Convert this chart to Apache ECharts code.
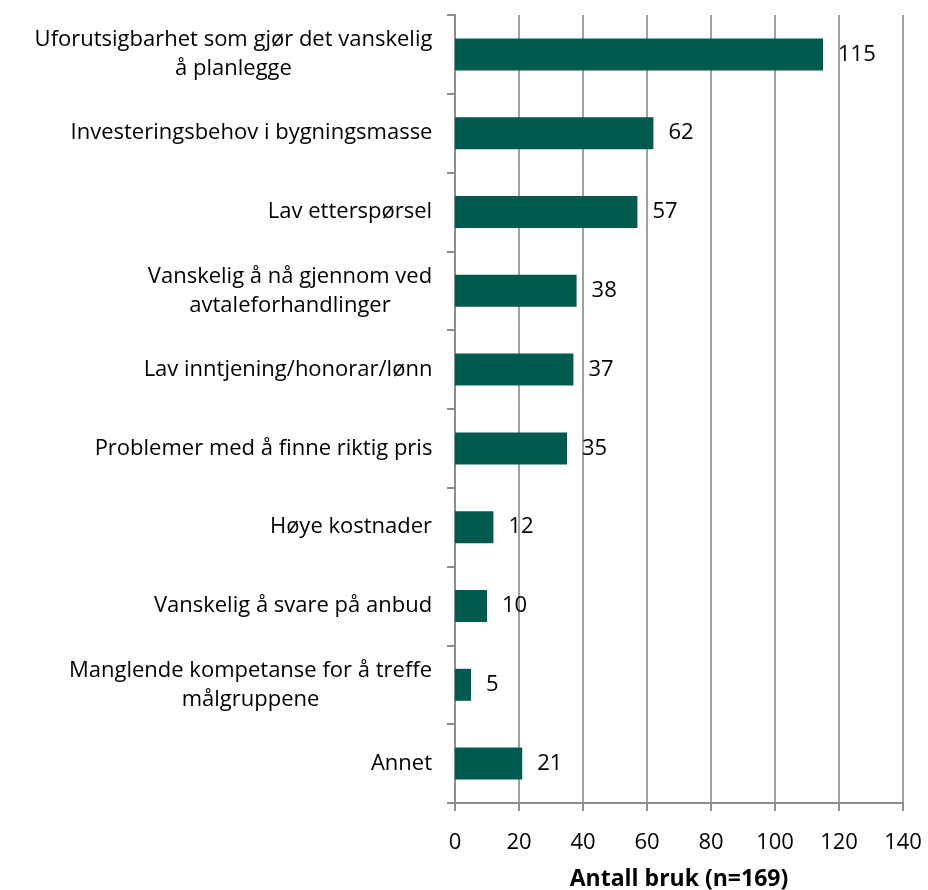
<!DOCTYPE html>
<html>
<head>
<meta charset="utf-8">
<script src="https://cdn.jsdelivr.net/npm/echarts@6/dist/echarts.min.js"></script>
<style>
  html, body { margin: 0; padding: 0; background: #fff; }
  #chart { width: 928px; height: 890px; }
</style>
</head>
<body>
<div id="chart"></div>
<script>
var categories = [
    'Uforutsigbarhet som gjør det vanskelig\nå planlegge',
    'Investeringsbehov i bygningsmasse',
    'Lav etterspørsel',
    'Vanskelig å nå gjennom ved\navtaleforhandlinger',
    'Lav inntjening/honorar/lønn',
    'Problemer med å finne riktig pris',
    'Høye kostnader',
    'Vanskelig å svare på anbud',
    'Manglende kompetanse for å treffe\nmålgruppene',
    'Annet'
];
var values = [115, 62, 57, 38, 37, 35, 12, 10, 5, 21];
var xTicks = [0, 20, 40, 60, 80, 100, 120, 140];

var fontFamily = '"Open Sans", Lato, sans-serif';
var catSize = 22;
var numSize = 22;

// width of the longest line, so two-line labels get centred lines
var ctx = document.createElement('canvas').getContext('2d');
ctx.font = catSize + 'px ' + fontFamily;
var rich = {};
categories.forEach(function (c, i) {
    var w = 0;
    c.split('\n').forEach(function (l) {
        w = Math.max(w, ctx.measureText(l).width);
    });
    rich['c' + i] = { width: Math.ceil(w) + 1, align: 'center', fontSize: catSize, fontFamily: fontFamily, color: '#000', lineHeight: 29 };
});

var myChart = echarts.init(document.getElementById('chart'));

var option = {
    animation: false,
    grid: {
        left: 455,
        right: 25,
        top: 15,
        bottom: 87,
        outerBoundsMode: 'none'
    },
    xAxis: {
        type: 'value',
        min: xTicks[0],
        max: xTicks[xTicks.length - 1],
        interval: 20,
        name: 'Antall bruk (n=169)',
        nameLocation: 'middle',
        nameGap: 65,
        nameTextStyle: {
            fontFamily: fontFamily,
            fontSize: 23,
            fontWeight: 'bold',
            color: '#000'
        },
        axisLine: { show: true, lineStyle: { color: '#8c8c8c', width: 2 } },
        axisTick: { show: true, length: 8, lineStyle: { color: '#8c8c8c', width: 2 } },
        axisLabel: {
            margin: 29,
            fontFamily: fontFamily,
            fontSize: numSize,
            color: '#000'
        },
        splitLine: { show: true, lineStyle: { color: '#a0a0a0', width: 2 } }
    },
    yAxis: {
        type: 'category',
        data: categories,
        inverse: true,
        axisLine: { show: true, lineStyle: { color: '#8c8c8c', width: 2 } },
        axisTick: { show: true, length: 8, lineStyle: { color: '#8c8c8c', width: 2 } },
        axisLabel: {
            margin: 22,
            interval: 0,
            formatter: function (value, index) {
                return value.split('\n').map(function (l) {
                    return '{c' + index + '|' + l + '}';
                }).join('\n');
            },
            rich: rich
        }
    },
    series: [{
        type: 'bar',
        data: values,
        barWidth: 32,
        itemStyle: { color: '#005b4f' },
        label: {
            show: true,
            position: 'right',
            distance: 15,
            fontFamily: fontFamily,
            fontSize: numSize,
            color: '#000'
        }
    }]
};

myChart.setOption(option);
</script>
</body>
</html>
